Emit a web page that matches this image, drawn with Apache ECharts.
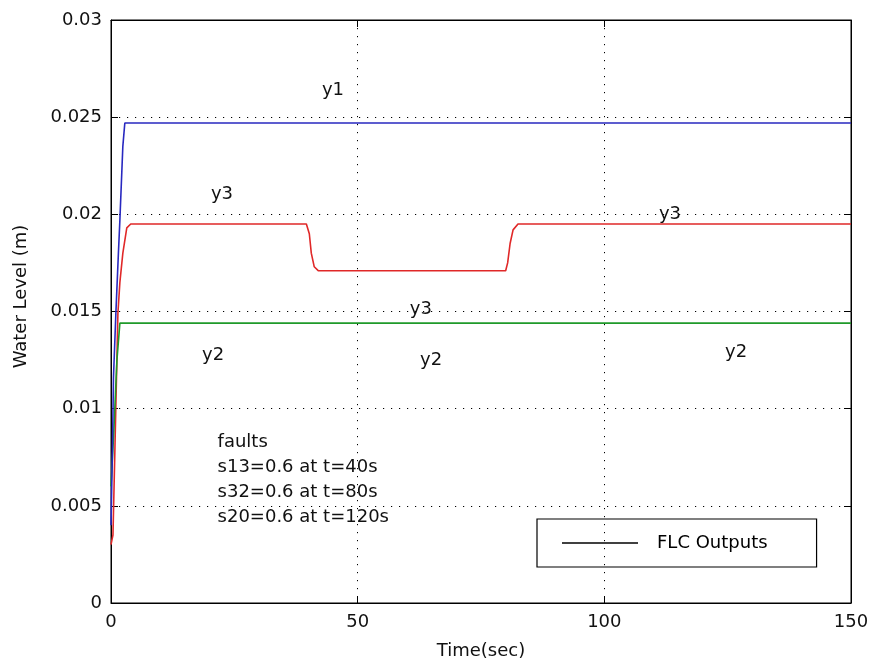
<!DOCTYPE html>
<html>
<head>
<meta charset="utf-8">
<script src="https://cdn.jsdelivr.net/npm/echarts@6/dist/echarts.min.js"></script>
<style>
html,body{margin:0;padding:0;background:#fff;}
#chart{width:872px;height:667px;}
</style>
</head>
<body>
<div id="chart"></div>
<script>
// ---- data ----
var y1Time = [0, 0.3, 0.5, 1.0, 1.5, 1.8, 2.4, 2.8, 150];
var y1Level = [0.004, 0.008, 0.0116, 0.015, 0.018, 0.0197, 0.0235, 0.0247, 0.0247];

var y3Time = [0, 0.4, 0.8, 1.4, 1.8, 2.4, 3.2, 4.0, 39.6, 40.2, 40.6, 41.2, 42.0, 80.0, 80.4, 80.9, 81.5, 82.5, 150];
var y3Level = [0.003, 0.0035, 0.008, 0.0149, 0.0165, 0.018, 0.0193, 0.0195, 0.0195, 0.019, 0.018, 0.0173, 0.0171, 0.0171, 0.0175, 0.0185, 0.0192, 0.0195, 0.0195];

var y2Time = [0, 0.6, 1.2, 1.8, 150];
var y2Level = [0.006, 0.009, 0.0125, 0.0144, 0.0144];

var xTicks = [0, 50, 100, 150];
var yTicks = [0, 0.005, 0.01, 0.015, 0.02, 0.025, 0.03];

var curveLabels = ['y1', 'y3', 'y3', 'y3', 'y2', 'y2', 'y2'];
var curveLabelX = [45, 22.5, 113.3, 62.8, 20.7, 64.9, 126.7];
var curveLabelY = [0.0264, 0.02105, 0.0200, 0.01513, 0.01276, 0.0125, 0.01292];

var noteLines = ['faults', 's13=0.6 at t=40s', 's32=0.6 at t=80s', 's20=0.6 at t=120s'];
var noteX = [21.6, 21.6, 21.6, 21.6];
var noteY = [0.00828, 0.0070, 0.00571, 0.00443];

var legendName = 'FLC Outputs';
var xName = 'Time(sec)';
var yName = 'Water Level (m)';

// ---- build ----
function pairs(a, b) { return a.map(function (v, i) { return [v, b[i]]; }); }
var FONT = 'DejaVu Sans';
var gridDot = { color: '#000', width: 1, type: [1.2, 6.8] };

var chart = echarts.init(document.getElementById('chart'), null, { renderer: 'canvas' });
chart.setOption({
  animation: false,
  backgroundColor: '#fff',
  grid: { left: 111, right: 21, top: 20, bottom: 64, show: true, borderColor: '#000', borderWidth: 1, backgroundColor: 'transparent' },
  legend: {
    show: true,
    data: [{ name: legendName, icon: 'rect' }],
    left: 537, top: 519,
    padding: [15, 49, 15, 25],
    itemWidth: 76, itemHeight: 1.3,
    borderColor: '#000', borderWidth: 1.2, borderRadius: 0,
    backgroundColor: 'transparent',
    selectedMode: false,
    itemStyle: { color: '#000', borderWidth: 0 },
    textStyle: { fontFamily: FONT, fontSize: 18, color: '#000', padding: [0, 0, 0, 14] }
  },
  xAxis: [{
    type: 'value', min: 0, max: 150, interval: 50,
    name: xName, nameLocation: 'middle', nameGap: 39,
    nameTextStyle: { fontFamily: FONT, fontSize: 18, color: '#111' },
    axisLine: { show: true, onZero: false, lineStyle: { color: '#000', width: 1 } },
    axisTick: { show: true, inside: true, length: 7, lineStyle: { color: '#000' } },
    axisLabel: { fontFamily: FONT, fontSize: 18, color: '#111', margin: 10, formatter: function (v) { return xTicks.indexOf(v) >= 0 ? String(v) : ''; } },
    splitLine: { show: true, lineStyle: gridDot }
  }, {
    type: 'value', min: 0, max: 150, interval: 50, position: 'top',
    axisLine: { show: true, onZero: false, lineStyle: { color: '#000' } },
    axisTick: { show: true, inside: true, length: 7, lineStyle: { color: '#000' } },
    axisLabel: { show: false }, splitLine: { show: false }
  }],
  yAxis: [{
    type: 'value', min: 0, max: 0.03, interval: 0.005,
    name: yName, nameLocation: 'middle', nameGap: 81, nameRotate: 90,
    nameTextStyle: { fontFamily: FONT, fontSize: 18, color: '#111', padding: [0, 0, 0, 30] },
    axisLine: { show: true, onZero: false, lineStyle: { color: '#000', width: 1 } },
    axisTick: { show: true, inside: true, length: 7, lineStyle: { color: '#000' } },
    axisLabel: { fontFamily: FONT, fontSize: 18, color: '#111', margin: 9, formatter: function (v) { var r = Math.round(v * 1000) / 1000; return String(r); } },
    splitLine: { show: true, lineStyle: gridDot }
  }, {
    type: 'value', min: 0, max: 0.03, interval: 0.005, position: 'right',
    axisLine: { show: true, onZero: false, lineStyle: { color: '#000' } },
    axisTick: { show: true, inside: true, length: 7, lineStyle: { color: '#000' } },
    axisLabel: { show: false }, splitLine: { show: false }
  }],
  series: [
    { name: 'y3', type: 'line', data: pairs(y3Time, y3Level), showSymbol: false, symbol: 'none', lineStyle: { color: '#e02828', width: 1.6 }, itemStyle: { color: '#e02828' }, z: 3 },
    { name: 'y2', type: 'line', data: pairs(y2Time, y2Level), showSymbol: false, symbol: 'none', lineStyle: { color: '#1f9a2a', width: 1.6 }, itemStyle: { color: '#1f9a2a' }, z: 3 },
    { name: 'y1', type: 'line', data: pairs(y1Time, y1Level), showSymbol: false, symbol: 'none', lineStyle: { color: '#2828c0', width: 1.6 }, itemStyle: { color: '#2828c0' }, z: 4 },
    { name: legendName, type: 'line', data: [], symbol: 'none', lineStyle: { color: '#000', width: 1.3 }, itemStyle: { color: '#000' } },
    {
      name: 'curveLabels', type: 'scatter', symbolSize: 0, silent: true,
      itemStyle: { opacity: 1, color: '#000' },
      data: curveLabels.map(function (t, i) { return { name: t, value: [curveLabelX[i], curveLabelY[i]] }; }),
      label: { show: true, position: 'inside', formatter: '{b}', fontFamily: FONT, fontSize: 18, color: '#111', opacity: 1, textBorderWidth: 0, align: 'center', verticalAlign: 'middle' },
      z: 6
    },
    {
      name: 'notes', type: 'scatter', symbolSize: 0, silent: true,
      itemStyle: { opacity: 1, color: '#000' },
      data: noteLines.map(function (t, i) { return { name: t, value: [noteX[i], noteY[i]] }; }),
      label: { show: true, position: 'inside', formatter: '{b}', fontFamily: FONT, fontSize: 18, color: '#111', opacity: 1, textBorderWidth: 0, align: 'left', verticalAlign: 'middle' },
      z: 6
    }
  ]
});
</script>
</body>
</html>
